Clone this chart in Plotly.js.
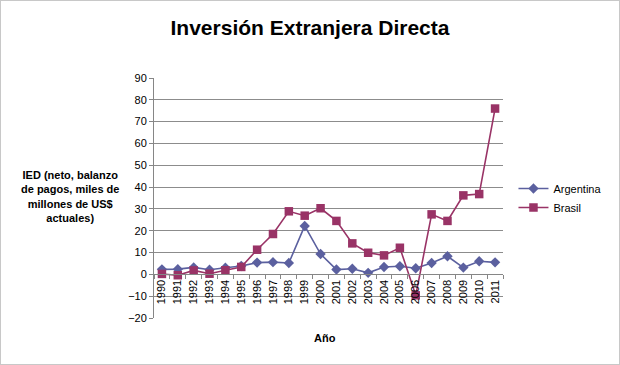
<!DOCTYPE html>
<html>
<head>
<meta charset="utf-8">
<script src="https://cdn.plot.ly/plotly-3.0.1.min.js"></script>
<style>
html,body{margin:0;padding:0;background:#fff;}
#chart{width:618px;height:363px;border:1px solid #c8c8c8;}
</style>
</head>
<body>
<div id="chart"></div>
<script>
const years = ['1990','1991','1992','1993','1994','1995','1996','1997','1998','1999','2000','2001','2002','2003','2004','2005','2006','2007','2008','2009','2010','2011'];
const argentina = [2.3, 2.4, 3.2, 2.1, 3.0, 3.8, 5.4, 5.6, 5.2, 22.2, 9.3, 2.2, 2.6, 0.7, 3.4, 3.7, 2.8, 5.2, 8.3, 3.1, 6.0, 5.5];
const brasil = [0.2, -0.4, 1.8, 0.3, 1.9, 3.4, 11.3, 18.5, 28.9, 26.9, 30.3, 24.5, 14.2, 9.9, 8.7, 12.2, -9.6, 27.5, 24.5, 36.2, 36.8, 76.0];
const yTicks = [-20,-10,0,10,20,30,40,50,60,70,80,90];

const traces = [
  {x: years, y: argentina, name: 'Argentina', type: 'scatter', mode: 'lines+markers',
   line: {color: '#5B609F', width: 1.6},
   marker: {symbol: 'diamond', size: 8, color: '#5B609F'}},
  {x: years, y: brasil, name: 'Brasil', type: 'scatter', mode: 'lines+markers',
   line: {color: '#993366', width: 1.6},
   marker: {symbol: 'square', size: 8.5, color: '#993366'}}
];

const yMin = -20, yMax = 90;
const layout = {
  width: 618, height: 363,
  margin: {l: 153, r: 116, t: 77, b: 46, autoexpand: false},
  paper_bgcolor: '#fff', plot_bgcolor: '#fff',
  font: {family: 'Liberation Sans, Arial, sans-serif', size: 11, color: '#000'},
  title: {text: '<b>Inversión Extranjera Directa</b>', x: 309/618, xref: 'container', xanchor: 'center',
          y: 1 - 27/363, yanchor: 'middle', font: {size: 21, family: 'Liberation Sans, Arial, sans-serif'}},
  showlegend: true,
  legend: {x: 1.03, xanchor: 'left', y: 0.5, yanchor: 'middle', font: {size: 11},
           bgcolor: 'rgba(0,0,0,0)', itemwidth: 30, tracegroupgap: 4},
  xaxis: {type: 'category', range: [-0.5, years.length - 0.5], anchor: 'free', position: (0 - yMin) / (yMax - yMin),
          showgrid: false, showline: true, linecolor: '#868686', linewidth: 1,
          tickangle: -90, ticks: 'outside', ticklen: 4, tickcolor: '#868686',
          tickson: 'boundaries', tickfont: {size: 11}, zeroline: false},
  yaxis: {range: [yMin, yMax], tickvals: yTicks, showgrid: true, gridcolor: '#8c8c8c', gridwidth: 1,
          showline: true, linecolor: '#868686', ticks: 'outside', ticklen: 4, tickcolor: '#868686',
          zeroline: false, tickfont: {size: 11}},
  annotations: [
    {text: '<b>IED (neto, balanzo<br>de pagos, miles de<br>millones de US$<br>actuales)</b>',
     xref: 'paper', yref: 'paper', x: -0.24, y: 0.505, xanchor: 'center', yanchor: 'middle',
     showarrow: false, align: 'center', font: {size: 11}},
    {text: '<b>Año</b>', xref: 'paper', yref: 'paper', x: 0.49, y: -0.085,
     xanchor: 'center', yanchor: 'middle', showarrow: false, font: {size: 11}}
  ]
};
Plotly.newPlot('chart', traces, layout, {displayModeBar: false, staticPlot: true});
</script>
</body>
</html>
